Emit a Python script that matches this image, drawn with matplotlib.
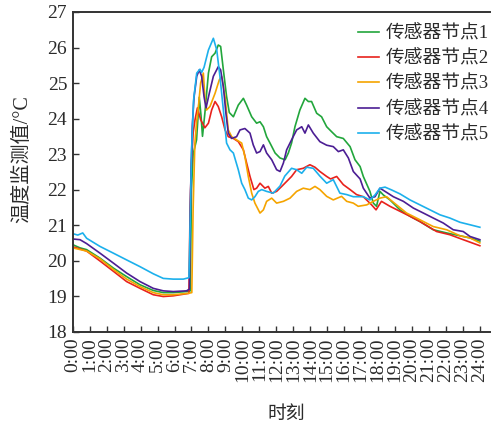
import matplotlib
matplotlib.use("Agg")
import matplotlib.pyplot as plt

plt.rcParams['font.family'] = ['Liberation Serif', 'Noto Sans CJK SC']
plt.rcParams['axes.unicode_minus'] = False

# Sampling times (hours) and temperature readings (°C) for each sensor node
t_node1 = [0, 0.43, 0.82, 1.61, 2.4, 3.18, 3.97, 4.75, 5.34, 5.93, 6.71, 6.93, 7.0, 7.1, 7.3,
           7.46, 7.56, 7.65, 7.79, 8.0, 8.19, 8.39, 8.58, 8.72, 8.88, 9.07, 9.23, 9.47, 9.76,
           10.06, 10.25, 10.55, 10.84, 11.04, 11.24, 11.43, 11.63, 11.93, 12.22, 12.52, 12.71,
           12.9, 13.1, 13.39, 13.69, 13.89, 14.08, 14.38, 14.67, 14.97, 15.26, 15.56, 15.95,
           16.35, 16.64, 16.94, 17.13, 17.52, 17.72, 17.91, 18.11, 18.31, 18.7, 19.29, 19.88,
           20.47, 21.25, 22.04, 22.83, 23.42, 24.0]
temp_node1 = [20.45, 20.36, 20.31, 20.07, 19.79, 19.55, 19.32, 19.16, 19.1, 19.1, 19.13, 19.15,
              22.0, 23.0, 23.4, 24.6, 24.1, 23.5, 24.15, 25.28, 25.74, 25.84, 26.07, 26.03,
              25.37, 24.62, 24.17, 24.05, 24.38, 24.57, 24.38, 24.05, 23.87, 23.91, 23.77,
              23.49, 23.31, 23.03, 22.89, 22.84, 23.03, 23.31, 23.77, 24.24, 24.57, 24.48,
              24.48, 24.15, 24.05, 23.77, 23.63, 23.49, 23.44, 23.21, 22.84, 22.65, 22.37,
              21.95, 21.62, 21.53, 21.95, 21.85, 21.71, 21.43, 21.25, 21.1, 20.87, 20.78,
              20.7, 20.64, 20.55]

t_node2 = [0, 0.43, 0.82, 1.61, 2.4, 3.18, 3.97, 4.75, 5.34, 5.93, 6.71, 6.85, 6.92, 7.0, 7.1,
           7.21, 7.35, 7.54, 7.79, 8.0, 8.19, 8.39, 8.58, 8.78, 8.98, 9.17, 9.47, 9.76, 10.06,
           10.25, 10.45, 10.68, 10.84, 11.04, 11.33, 11.53, 11.73, 12.02, 12.32, 12.61, 12.9,
           13.2, 13.59, 13.98, 14.28, 14.57, 14.97, 15.2, 15.56, 15.95, 16.35, 16.73, 17.13,
           17.62, 17.88, 18.2, 18.7, 19.29, 19.88, 20.47, 21.45, 22.23, 23.02, 24.0]
temp_node2 = [20.39, 20.33, 20.27, 19.99, 19.7, 19.41, 19.22, 19.04, 18.99, 19.01, 19.07, 19.08,
              21.5, 22.75, 23.6, 23.97, 24.3, 23.97, 23.74, 23.87, 24.24, 24.48, 24.34, 24.05,
              23.68, 23.49, 23.44, 23.35, 23.12, 22.75, 22.37, 22.0, 22.04, 22.18, 22.04,
              22.09, 21.9, 21.95, 22.09, 22.23, 22.37, 22.56, 22.6, 22.7, 22.63, 22.51, 22.37,
              22.3, 22.37, 22.14, 22.0, 21.86, 21.8, 21.57, 21.43, 21.67, 21.53, 21.39, 21.25,
              21.1, 20.82, 20.73, 20.59, 20.42]

t_node3 = [0, 0.82, 1.61, 2.4, 3.18, 3.97, 4.75, 5.34, 5.93, 6.81, 7.02, 7.1, 7.2, 7.3, 7.41,
           7.54, 7.7, 7.79, 7.89, 8.09, 8.39, 8.64, 8.78, 8.98, 9.17, 9.37, 9.66, 9.96, 10.15,
           10.35, 10.55, 10.74, 11.04, 11.24, 11.43, 11.73, 12.02, 12.42, 12.81, 13.2, 13.59,
           13.98, 14.28, 14.57, 14.97, 15.36, 15.6, 15.85, 16.15, 16.54, 16.83, 17.33, 17.72,
           18.11, 18.5, 19.09, 19.68, 20.47, 21.25, 22.04, 22.83, 23.42, 24.0]
temp_node3 = [20.36, 20.27, 20.05, 19.75, 19.48, 19.27, 19.1, 19.04, 19.04, 19.08, 19.1, 21.5,
              23.3, 23.9, 24.34, 25.0, 25.28, 24.62, 24.24, 24.34, 24.71, 25.09, 25.18, 24.62,
              23.68, 23.49, 23.4, 23.31, 22.93, 22.37, 21.9, 21.62, 21.34, 21.43, 21.67, 21.76,
              21.62, 21.67, 21.76, 21.95, 22.04, 22.0, 22.09, 22.0, 21.81, 21.71, 21.76, 21.81,
              21.67, 21.62, 21.53, 21.57, 21.67, 21.76, 21.8, 21.57, 21.34, 21.15, 20.96,
              20.87, 20.7, 20.64, 20.5]

t_node4 = [0, 0.43, 0.82, 1.61, 2.4, 3.18, 3.97, 4.75, 5.34, 5.93, 6.71, 6.88, 6.95, 7.05, 7.15,
           7.31, 7.46, 7.6, 7.74, 7.86, 8.05, 8.29, 8.58, 8.72, 8.88, 9.03, 9.17, 9.37, 9.66,
           9.86, 10.15, 10.45, 10.64, 10.84, 11.04, 11.24, 11.43, 11.73, 12.02, 12.22, 12.42,
           12.61, 12.9, 13.2, 13.5, 13.69, 13.89, 14.18, 14.57, 14.97, 15.36, 15.66, 15.95,
           16.25, 16.54, 16.94, 17.13, 17.52, 17.82, 18.11, 18.41, 18.9, 19.49, 20.08, 20.67,
           21.25, 21.84, 22.43, 23.02, 23.42, 24.0]
temp_node4 = [20.61, 20.59, 20.48, 20.21, 19.93, 19.65, 19.41, 19.22, 19.15, 19.13, 19.15, 19.2,
              22.0, 23.8, 24.6, 25.19, 25.37, 25.19, 24.62, 24.3, 24.71, 25.19, 25.46, 25.37,
              24.9, 24.15, 23.59, 23.44, 23.49, 23.68, 23.72, 23.59, 23.26, 23.03, 23.07,
              23.26, 23.03, 22.84, 22.56, 22.51, 22.75, 23.12, 23.4, 23.68, 23.77, 23.59,
              23.82, 23.59, 23.35, 23.25, 23.21, 23.07, 23.12, 22.89, 22.51, 22.3, 22.04,
              21.76, 21.8, 22.04, 21.95, 21.8, 21.67, 21.48, 21.34, 21.2, 21.06, 20.87, 20.82,
              20.68, 20.59]

t_node5 = [0, 0.3, 0.59, 0.82, 1.61, 2.4, 3.18, 3.97, 4.75, 5.34, 5.93, 6.52, 6.85, 6.92, 7.0,
           7.12, 7.31, 7.5, 7.6, 7.74, 8.0, 8.29, 8.49, 8.68, 8.88, 9.07, 9.27, 9.47, 9.76,
           9.96, 10.15, 10.35, 10.55, 10.74, 10.94, 11.14, 11.43, 11.82, 12.22, 12.5, 12.9,
           13.2, 13.5, 13.79, 14.18, 14.57, 14.97, 15.36, 15.75, 16.15, 16.54, 17.13, 17.52,
           17.82, 18.11, 18.41, 18.8, 19.29, 19.88, 20.47, 21.06, 21.65, 22.23, 22.83, 23.42,
           24.0]
temp_node5 = [20.76, 20.72, 20.78, 20.63, 20.4, 20.21, 20.02, 19.83, 19.63, 19.5, 19.48, 19.48,
              19.52, 21.0, 23.0, 24.5, 25.28, 25.39, 25.3, 25.44, 25.93, 26.26, 25.93, 25.18,
              24.24, 23.31, 23.12, 23.03, 22.56, 22.18, 22.0, 21.76, 21.71, 21.8, 21.95, 22.0,
              21.95, 21.9, 22.1, 22.38, 22.6, 22.56, 22.46, 22.63, 22.6, 22.38, 22.18, 22.28,
              21.9, 21.86, 21.8, 21.8, 21.71, 21.85, 22.04, 22.07, 21.99, 21.88, 21.71, 21.57,
              21.43, 21.29, 21.2, 21.08, 21.01, 20.94]

series_labels = ['传感器节点1', '传感器节点2', '传感器节点3', '传感器节点4', '传感器节点5']
series_colors = ['#22a63c', '#e8221c', '#f5a400', '#4c1e94', '#1cb0ec']
hour_ticks = list(range(0, 25))
hour_labels = [f'{h}:00' for h in hour_ticks]
temp_ticks = list(range(18, 28))

fig = plt.figure(figsize=(4.93, 4.24), dpi=100)
ax = fig.add_axes([0.1475, 0.2177, 0.8465, 0.754])

text_color = '#2a2a2a'
series = [(t_node1, temp_node1), (t_node2, temp_node2), (t_node3, temp_node3),
          (t_node4, temp_node4), (t_node5, temp_node5)]
for (tt, vv), lab, col in zip(series, series_labels, series_colors):
    ax.plot(tt, vv, color=col, lw=1.2, label=lab)

ax.set_xlim(0, 24.6)
ax.set_ylim(18, 27)
ax.set_xticks(hour_ticks)
ax.set_xticklabels(hour_labels, rotation=90, fontsize=14, color=text_color)
ax.set_yticks(temp_ticks)
ax.set_yticklabels([str(v) for v in temp_ticks], fontsize=14, color=text_color)
ax.tick_params(direction='in', length=4.5, width=1.0, color='#333333', pad=4)

for side in ['left', 'bottom', 'top']:
    ax.spines[side].set_linewidth(1.4)
    ax.spines[side].set_color('#333333')
ax.spines['right'].set_visible(False)

ax.set_xlabel('时刻', fontsize=13.5, color=text_color)
ax.xaxis.set_label_coords(0.511, -0.232)
ax.set_ylabel('温度监测值/°C', fontsize=14.5, color=text_color)
ax.yaxis.set_label_coords(-0.098, 0.54)

leg = ax.legend(loc='upper left', bbox_to_anchor=(0.6837, 0.96), frameon=False,
                fontsize=13.5, handlelength=1.1, handletextpad=0.35, labelspacing=0.42,
                borderaxespad=0.0, borderpad=0.0, labelcolor=text_color)

fig.savefig('out.png', dpi=100)
